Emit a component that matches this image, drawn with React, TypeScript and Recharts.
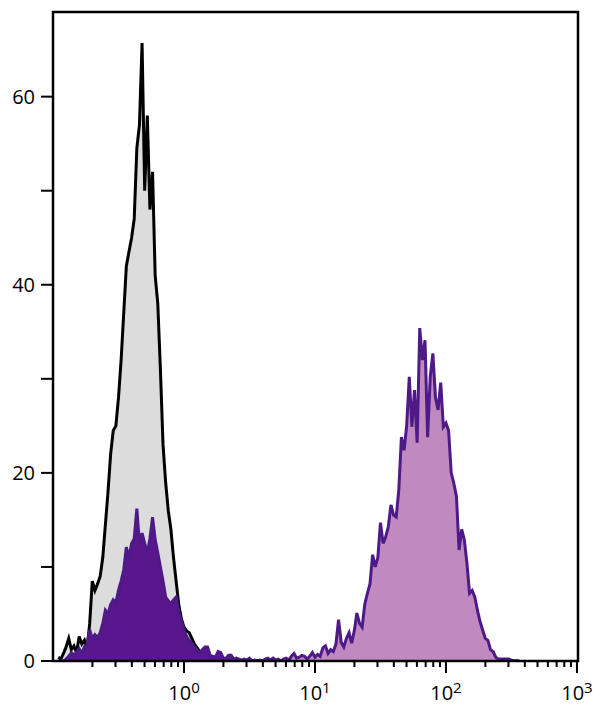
import { AreaChart, Area, XAxis, YAxis, ReferenceArea } from "recharts";

// channels are evenly spaced in log10 units
const LOG_START = -0.96;
const LOG_STEP = 0.02;
const SPLIT = 0.52; // where the stained histogram changes fill

const X_DECADES = [0, 1, 2, 3];
const X_MINOR = [2, 3, 4, 5, 6, 7, 8, 9];
const Y_TICKS = [0, 10, 20, 30, 40, 50, 60];
const Y_LABELS = [0, 20, 40, 60];

// isotype control (grey), zero after the listed channels
const control = [
  0.4, 0.2, 0.8, 1.5, 2.4, 1.2, 1.6, 0.9, 2.6, 1.8,
  2.2, 1.2, 4, 8.5, 7.5, 8.2, 9, 11, 14.5, 18,
  22, 24.5, 25, 28, 32, 37, 42, 43.5, 45, 47,
  54.5, 57, 65.7, 50, 58, 48, 52, 41, 38, 31,
  23, 19, 16, 14, 11, 8.5, 6, 4.5, 3.6, 3.2,
  3.0, 2.4, 1.8, 1.4, 1.0, 0.5, 0.2,
];

// stained sample (purple)
const stained = [
  0, 0, 0, 0.2, 0.5, 0.9, 0.6, 1.0, 1.3, 0.8,
  1.5, 1.8, 3.3, 2.4, 2.8, 2.5, 3.0, 4.0, 5.4, 5.0,
  6.0, 6.5, 6.2, 7.5, 8.5, 9.7, 12.1, 11, 12.5, 13,
  16.2, 12.5, 13.6, 12.5, 11.5, 13, 15.3, 12.9, 11.5, 10,
  8.5, 6.8, 6.4, 6.1, 6.5, 6.8, 5.2, 4.3, 3.3, 2.6,
  2.2, 1.9, 1.5, 1.2, 0.8, 1.2, 1.5, 1.5, 0.6, 0.5,
  0.4, 1.0, 0.9, 0.3, 0.3, 0.6, 0.6, 0.2, 0.3, 0.2,
  0.1, 0.2, 0.1, 0.3, 0, 0.1, 0, 0.1, 0, 0.2,
  0.3, 0.1, 0.3, 0.1, 0.2, 0, 0.2, 0.3, 0.1, 0.5,
  0.8, 0.3, 0.4, 0.6, 0.5, 0.2, 0.5, 0.9, 0.4, 0.7,
  0.5, 1.4, 1.6, 0.8, 1.2, 1.0, 1.8, 4.4, 2.0, 1.5,
  2.4, 3.0, 1.9, 3.2, 5.1, 4.0, 3.6, 6.0, 7.2, 8.2,
  11.3, 10, 11, 14.7, 12.5, 13.2, 14.3, 16.6, 15.5, 15.3,
  18.2, 23.8, 22.4, 25, 30.2, 24.9, 28.8, 23.2, 35.4, 32,
  34.1, 23.8, 30.2, 32.7, 28, 26.7, 29.6, 24.9, 25.3, 24.5,
  20, 18.9, 17.5, 11.8, 14, 12.9, 10.4, 7.2, 7.5, 6.8,
  5.4, 4.2, 3.3, 2.4, 2.2, 1.2, 1.0, 0.4, 0.2, 0.2,
  0.2, 0.2, 0.2, 0.1, 0, 0, 0,
];

const rows = stained.map((v, i) => {
  const ch = +(LOG_START + i * LOG_STEP).toFixed(2);
  return {
    ch,
    control: control[i] ?? 0,
    low: ch <= SPLIT ? v : null,
    high: ch >= SPLIT ? v : null,
  };
});

const xTicks = [
  ...[-1, 0, 1, 2].flatMap((d) => X_MINOR.map((m) => d + Math.log10(m))),
  ...X_DECADES,
].sort((a, b) => a - b);

const FONT = "Open Sans, sans-serif";

function XTick({ x, y, payload }: any) {
  const v = payload.value;
  const major = X_DECADES.some((d) => Math.abs(d - v) < 1e-6);
  return (
    <g>
      <line x1={x} x2={x} y1={y} y2={y + (major ? 12 : 6)} stroke="#000" strokeWidth={2} />
      {major && (
        <text x={x} y={y + 39} textAnchor="middle" fontSize={20} fontFamily={FONT} fill="#000">
          10
          <tspan dy={-7} fontSize={15}>
            {Math.round(v)}
          </tspan>
        </text>
      )}
    </g>
  );
}

function YTick({ x, y, payload }: any) {
  const v = payload.value;
  return (
    <g>
      <line x1={x - 12} x2={x} y1={y} y2={y} stroke="#000" strokeWidth={2} />
      {Y_LABELS.includes(v) && (
        <text x={x - 18} y={y + 7} textAnchor="end" fontSize={20} fontFamily={FONT} fill="#000">
          {v}
        </text>
      )}
    </g>
  );
}

export default function App() {
  return (
    <div style={{ position: "absolute", left: 0, top: 0 }}>
      <AreaChart
        width={600}
        height={713}
        data={rows}
        margin={{ top: 12, right: 22, left: 0, bottom: 0 }}
      >
        <XAxis
          dataKey="ch"
          type="number"
          domain={[-1, 3.008]}
          allowDataOverflow
          ticks={xTicks}
          interval={0}
          tickSize={0}
          tickMargin={0}
          axisLine={false}
          tickLine={false}
          tick={<XTick />}
          height={52}
        />
        <YAxis
          type="number"
          domain={[0, 69]}
          allowDataOverflow
          ticks={Y_TICKS}
          interval={0}
          tickSize={0}
          tickMargin={0}
          axisLine={false}
          tickLine={false}
          tick={<YTick />}
          width={53}
        />
        <Area
          dataKey="control"
          type="linear"
          stroke="#000"
          strokeWidth={3}
          fill="#dcdcdc"
          fillOpacity={1}
          isAnimationActive={false}
          dot={false}
          activeDot={false}
        />
        <Area
          dataKey="low"
          type="linear"
          stroke="#4d1a87"
          strokeWidth={3}
          fill="#5a168c"
          fillOpacity={1}
          isAnimationActive={false}
          dot={false}
          activeDot={false}
        />
        <Area
          dataKey="high"
          type="linear"
          stroke="#4d1a87"
          strokeWidth={3}
          fill="#c08ac1"
          fillOpacity={1}
          isAnimationActive={false}
          dot={false}
          activeDot={false}
        />
        <ReferenceArea
          x1={-1}
          x2={3.008}
          y1={0}
          y2={69}
          fill="none"
          stroke="#000"
          strokeWidth={2.5}
        />
      </AreaChart>
    </div>
  );
}
